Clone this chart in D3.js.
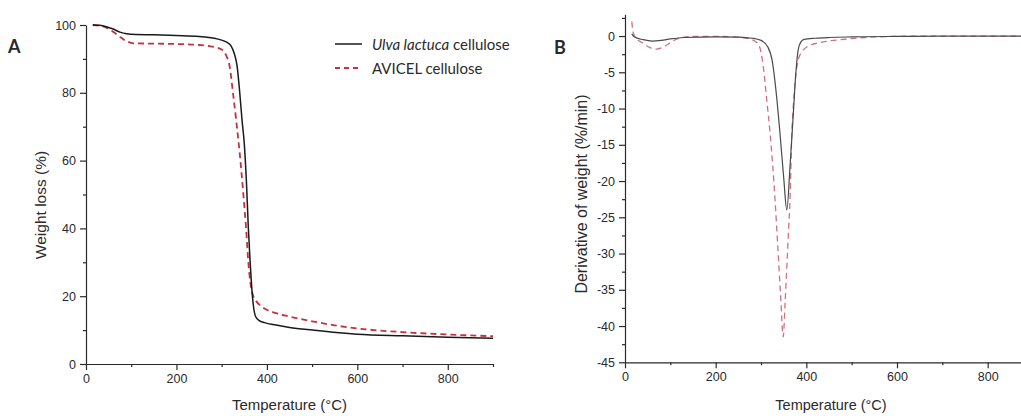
<!DOCTYPE html>
<html>
<head>
<meta charset="utf-8">
<script src="https://cdn.jsdelivr.net/npm/d3@7"></script>
<style>
  body { margin: 0; background: #fff; }
  svg text { font-family: "Liberation Sans", Arial, sans-serif; fill: #2a2a2a; }
  .legend text, .panel-label { font-family: Lato, "Open Sans", sans-serif; }
</style>
</head>
<body>
<svg id="chart" width="1021" height="416"></svg>
<script>
// Panel A: TGA weight loss (%)
const ulvaTempA = [15, 30, 45, 60, 75, 90, 110, 150, 200, 250, 290, 310, 320, 328, 334, 340, 345, 350, 355, 359, 363, 368, 375, 383, 395, 420, 450, 500, 560, 600, 700, 800, 900];
const ulvaWeight = [100, 99.9, 99.5, 98.8, 97.9, 97.4, 97.2, 97.1, 96.9, 96.6, 95.9, 95.0, 94.0, 91.5, 88.0, 80.0, 72.0, 65.0, 53.0, 40.0, 30.0, 20.0, 14.0, 12.8, 12.2, 11.5, 10.8, 10.0, 9.2, 8.8, 8.3, 7.9, 7.6];
const avicelTempA = [15, 30, 45, 60, 75, 90, 105, 150, 200, 250, 280, 300, 310, 318, 325, 332, 340, 348, 354, 359, 364, 370, 377, 390, 420, 450, 500, 550, 600, 700, 800, 900];
const avicelWeight = [100, 99.8, 99.2, 98.0, 96.5, 95.2, 94.6, 94.5, 94.4, 94.1, 93.6, 92.8, 91.0, 87.5, 80.0, 72.0, 62.0, 50.0, 40.0, 30.0, 23.5, 20.0, 18.4, 16.8, 15.0, 14.0, 12.6, 11.4, 10.5, 9.4, 8.7, 8.2];

// Panel B: DTG derivative of weight (%/min)
const ulvaTempB = [15, 20, 40, 60, 80, 100, 130, 200, 250, 280, 300, 315, 325, 333, 342, 350, 357, 364, 371, 377, 382, 388, 395, 420, 450, 500, 600, 700, 800, 900];
const ulvaDeriv = [0.3, -0.1, -0.5, -0.7, -0.6, -0.4, -0.2, -0.1, -0.15, -0.3, -0.6, -1.5, -3.5, -7.5, -13.5, -19.5, -24.0, -18.0, -11.0, -5.0, -1.9, -0.8, -0.45, -0.3, -0.2, -0.12, -0.05, 0, 0, 0];
const avicelTempB = [15, 18, 25, 40, 55, 70, 85, 100, 115, 130, 160, 200, 250, 280, 295, 305, 313, 320, 326, 331, 337, 343, 349, 353, 357, 361, 364, 368, 372, 375, 382, 390, 401, 430, 460, 482, 530, 592, 700, 800, 900];
const avicelDeriv = [2.0, 0.5, -0.3, -1.0, -1.6, -1.8, -1.5, -0.9, -0.4, -0.15, -0.05, -0.05, -0.15, -0.5, -1.2, -4.2, -9.0, -13.4, -18.0, -22.6, -29.0, -35.5, -41.5, -37.0, -31.8, -26.5, -22.6, -13.4, -9.0, -6.5, -3.3, -2.2, -1.5, -0.9, -0.6, -0.45, -0.2, -0.05, 0, 0, 0];

const tempTicks = [0, 200, 400, 600, 800];
const tempMinor = [100, 300, 500, 700, 900];
const weightTicks = [0, 20, 40, 60, 80, 100];
const weightMinor = [10, 30, 50, 70, 90];
const derivTicks = [-45, -40, -35, -30, -25, -20, -15, -10, -5, 0];
const derivMinor = [-42.5, -37.5, -32.5, -27.5, -22.5, -17.5, -12.5, -7.5, -2.5, 2.5];

const seriesNames = ["Ulva lactuca", "AVICEL"];

const svg = d3.select("#chart");

const ulvaStyle = { stroke: "#1a1a1a", width: 1.5, dash: null };
const avicelStyleA = { stroke: "#c4323e", width: 1.8, dash: "6,4" };
const ulvaStyleB = { stroke: "#4a4a4a", width: 1.2, dash: null };
const avicelStyleB = { stroke: "#d2707c", width: 1.3, dash: "6,4" };

function drawAxes(g, x, y, xt, xm, yt, ym) {
  const x0 = y.range()[0];
  g.append("g").attr("transform", `translate(0,${x0})`)
    .call(d3.axisBottom(x).tickValues(xm).tickSize(3).tickFormat(""))
    .call((a) => a.select(".domain").remove());
  g.append("g").attr("transform", `translate(0,${x0})`)
    .attr("class", "xaxis")
    .call(d3.axisBottom(x).tickValues(xt).tickSize(6).tickSizeOuter(0).tickPadding(4).tickFormat((d) => String(d)));
  g.append("g").attr("transform", `translate(${x.range()[0]},0)`)
    .call(d3.axisLeft(y).tickValues(ym).tickSize(3).tickFormat(""))
    .call((a) => a.select(".domain").remove());
  g.append("g").attr("transform", `translate(${x.range()[0]},0)`)
    .attr("class", "yaxis")
    .call(d3.axisLeft(y).tickValues(yt).tickSize(6).tickSizeOuter(0).tickPadding(4).tickFormat((d) => String(d)));
  g.selectAll(".domain, .tick line").attr("stroke", "#2a2a2a").attr("stroke-width", 1.2);
  g.selectAll(".tick text").attr("font-size", "12.5px").attr("font-family", "Liberation Sans, Arial, sans-serif").attr("fill", "#2a2a2a");
}

function drawLine(g, x, y, temps, vals, st) {
  const pts = temps.map((t, i) => [t, vals[i]]);
  const line = d3.line().x((d) => x(d[0])).y((d) => y(d[1])).curve(d3.curveMonotoneX);
  g.append("path")
    .datum(pts)
    .attr("d", line)
    .attr("fill", "none")
    .attr("stroke", st.stroke)
    .attr("stroke-width", st.width)
    .attr("stroke-dasharray", st.dash);
}

// ---- Panel A ----
const gA = svg.append("g");
const xA = d3.scaleLinear().domain([0, 900]).range([86, 493]);
const yA = d3.scaleLinear().domain([0, 100]).range([364, 25]);
drawAxes(gA, xA, yA, tempTicks, tempMinor, weightTicks, weightMinor);
drawLine(gA, xA, yA, avicelTempA, avicelWeight, avicelStyleA);
drawLine(gA, xA, yA, ulvaTempA, ulvaWeight, ulvaStyle);

gA.append("text").attr("x", (86 + 493) / 2).attr("y", 410)
  .attr("text-anchor", "middle").attr("font-size", "15px").text("Temperature (°C)");
gA.append("text").attr("transform", "translate(46,205) rotate(-90)")
  .attr("text-anchor", "middle").attr("font-size", "15.5px").text("Weight loss (%)");
gA.append("text").attr("class", "panel-label").attr("x", 8).attr("y", 53)
  .attr("font-size", "18px").attr("font-weight", "bold").attr("fill", "#111").text("A");

// legend
const legend = gA.append("g").attr("class", "legend");
[[ulvaStyle, 44], [avicelStyleA, 68]].forEach(([st, yy], i) => {
  legend.append("line").attr("x1", 335).attr("x2", 362).attr("y1", yy).attr("y2", yy)
    .attr("stroke", st.stroke).attr("stroke-width", st.width)
    .attr("stroke-dasharray", st.dash ? "5,4" : null);
  const t = legend.append("text").attr("x", 372).attr("y", yy + 5.5).attr("font-size", "15px").attr("fill", "#222");
  if (i === 0) {
    t.append("tspan").attr("font-style", "italic").text(seriesNames[0]);
    t.append("tspan").text(" cellulose");
  } else {
    t.text(seriesNames[1] + " cellulose");
  }
});

// ---- Panel B ----
const gB = svg.append("g");
const xB = d3.scaleLinear().domain([0, 900]).range([625, 1033]);
const yB = d3.scaleLinear().domain([-45, 3]).range([362.3, 14.3]);
drawAxes(gB, xB, yB, tempTicks, tempMinor, derivTicks, derivMinor);
drawLine(gB, xB, yB, avicelTempB, avicelDeriv, avicelStyleB);
drawLine(gB, xB, yB, ulvaTempB, ulvaDeriv, ulvaStyleB);

gB.append("text").attr("x", 831).attr("y", 410)
  .attr("text-anchor", "middle").attr("font-size", "14.5px").text("Temperature (°C)");
gB.append("text").attr("transform", "translate(587,194) rotate(-90)")
  .attr("text-anchor", "middle").attr("font-size", "16px").text("Derivative of weight (%/min)");
gB.append("text").attr("class", "panel-label").attr("x", 554).attr("y", 54)
  .attr("font-size", "18px").attr("font-weight", "bold").attr("fill", "#111").text("B");
</script>
</body>
</html>
